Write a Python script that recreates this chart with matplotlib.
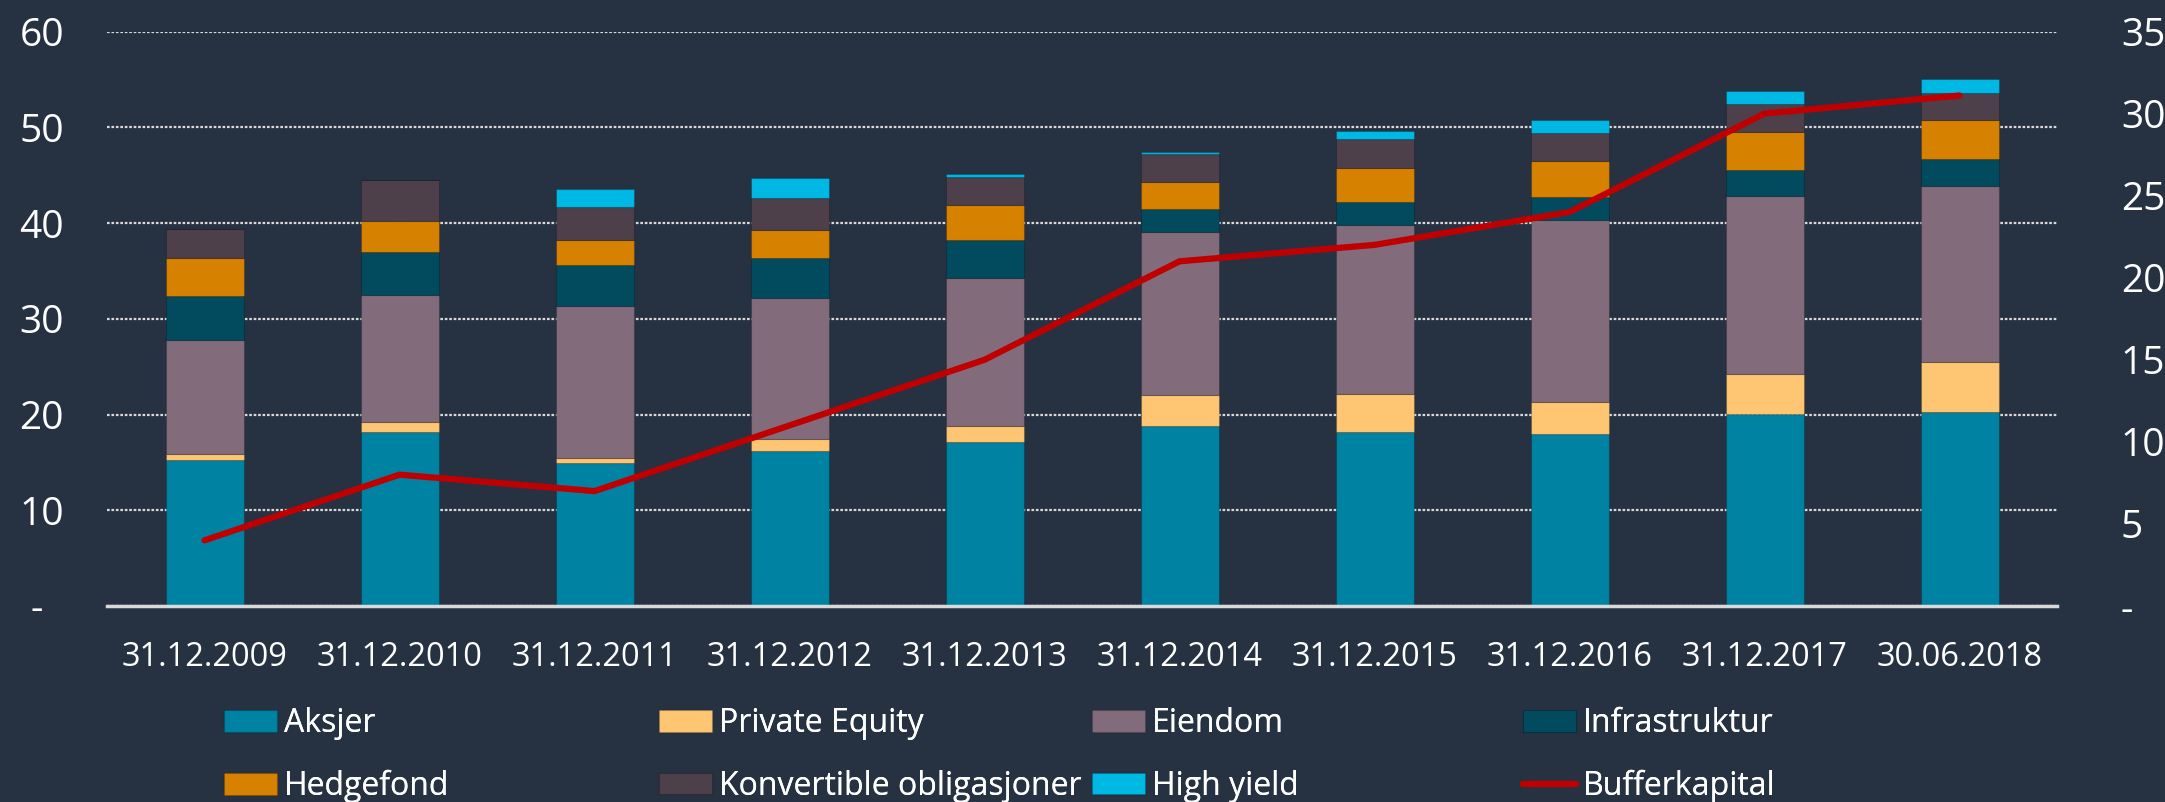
import matplotlib
matplotlib.use("Agg")
import matplotlib.pyplot as plt
import numpy as np

plt.rcParams['font.family'] = ['Open Sans', 'DejaVu Sans']

categories = ["31.12.2009", "31.12.2010", "31.12.2011", "31.12.2012", "31.12.2013",
              "31.12.2014", "31.12.2015", "31.12.2016", "31.12.2017", "30.06.2018"]

aksjer         = [15.2, 18.2, 14.9, 16.2, 17.1, 18.8, 18.2, 18.0, 20.1, 20.3]
private_equity = [0.7, 1.0, 0.6, 1.2, 1.7, 3.2, 3.9, 3.3, 4.1, 5.2]
eiendom        = [11.9, 13.3, 15.8, 14.8, 15.5, 17.1, 17.7, 19.0, 18.6, 18.4]
infrastruktur  = [4.6, 4.5, 4.3, 4.1, 3.9, 2.4, 2.4, 2.4, 2.7, 2.8]
hedgefond      = [3.9, 3.2, 2.6, 3.0, 3.7, 2.8, 3.5, 3.8, 4.0, 4.1]
konvertible    = [3.1, 4.3, 3.5, 3.3, 2.9, 2.9, 3.1, 2.9, 2.9, 2.8]
high_yield     = [0.0, 0.0, 1.9, 2.1, 0.3, 0.2, 0.8, 1.4, 1.4, 1.4]
bufferkapital  = [4.0, 8.0, 7.0, 11.0, 15.0, 21.0, 22.0, 24.0, 30.0, 31.1]

series_names = ["Aksjer", "Private Equity", "Eiendom", "Infrastruktur",
                "Hedgefond", "Konvertible obligasjoner", "High yield"]
series_values = [aksjer, private_equity, eiendom, infrastruktur,
                 hedgefond, konvertible, high_yield]
series_colors = ["#0082A3", "#FEC572", "#826C7C", "#024A5E",
                 "#D68100", "#4D404A", "#00B8E4"]
line_name = "Bufferkapital"
line_color = "#C00000"

left_ticks = [0, 10, 20, 30, 40, 50, 60]
right_ticks = [0, 5, 10, 15, 20, 25, 30, 35]

bg = "#263242"
txt = "#FFFFFF"
W, H = 2165, 802

fig = plt.figure(figsize=(W / 100, H / 100), dpi=100, facecolor=bg)
ax = fig.add_axes([107 / W, 1 - 606 / H, (2057 - 107) / W, (606 - 31.5) / H])
ax.set_facecolor(bg)

x = np.arange(len(categories))
bottom = np.zeros(len(categories))
handles = []
for name, vals, col in zip(series_names, series_values, series_colors):
    vals = np.array(vals)
    bc = ax.bar(x, vals, width=0.40, bottom=bottom, color=col, label=name,
                edgecolor=(0, 0, 0, 0.18), linewidth=0.8, zorder=3)
    handles.append(bc)
    bottom = bottom + vals

ax.set_xlim(-0.5, len(categories) - 0.5)
ax.set_ylim(0, 60)
ax.set_yticks(left_ticks)
ax.set_yticklabels(["-  " if v == 0 else str(v) for v in left_ticks])
ax.set_xticks(x)
ax.set_xticklabels(categories)
ax.tick_params(axis='y', length=0, pad=31, labelsize=28, colors=txt)
ax.tick_params(axis='x', length=0, pad=25, labelsize=23.5, colors=txt)

ax.grid(axis='y', color="#D9D9D9", linestyle=(0, (1.2, 0.8)), linewidth=1.6, zorder=1)
ax.set_axisbelow(True)
for s in ['top', 'left', 'right']:
    ax.spines[s].set_visible(False)
ax.spines['bottom'].set_color("#D9D9D9")
ax.spines['bottom'].set_linewidth(2.5)
ax.spines['bottom'].set_zorder(4)

ax2 = ax.twinx()
ax2.set_ylim(0, 35)
ax2.set_yticks(right_ticks)
ax2.set_yticklabels(["-" if v == 0 else str(v) for v in right_ticks])
ax2.tick_params(axis='y', length=0, pad=46, labelsize=28, colors=txt)
for s in ['top', 'left', 'right', 'bottom']:
    ax2.spines[s].set_visible(False)
ln, = ax2.plot(x, bufferkapital, color=line_color, linewidth=4.5,
               solid_capstyle='round', solid_joinstyle='round', label=line_name, zorder=5)
handles.append(ln)

# legend: 4 columns of 2 rows, fixed column positions
all_names = series_names + [line_name]
col_x = [224, 659, 1092, 1523]
for c in range(4):
    hs = [handles[c], handles[c + 4]]
    ls = [all_names[c], all_names[c + 4]]
    leg = fig.legend(hs, ls, loc='center left',
                     bbox_to_anchor=(col_x[c] / W, 1 - 755 / H),
                     frameon=False, fontsize=23, labelcolor=txt,
                     handlelength=1.65, handleheight=0.68, handletextpad=0.22,
                     labelspacing=0.92, borderpad=0, borderaxespad=0)
    fig.add_artist(leg)

fig.savefig("out.png", dpi=100, facecolor=bg)
